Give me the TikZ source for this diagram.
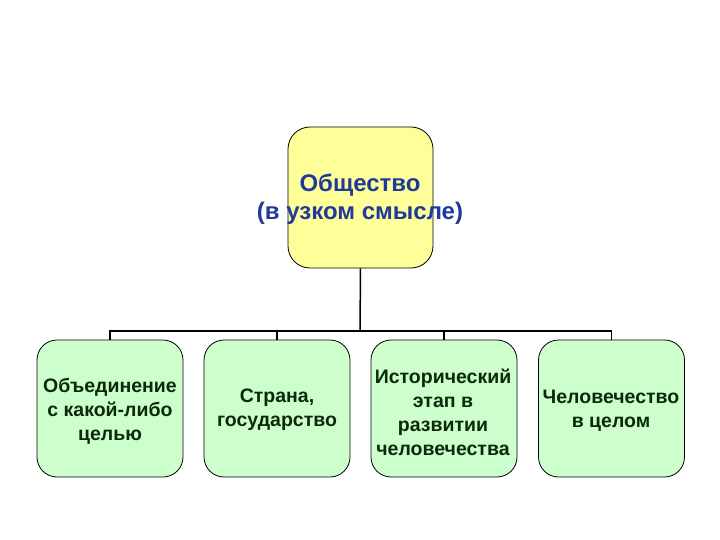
\documentclass[tikz,border=0pt]{standalone}
\usepackage{fontspec}
\setmainfont{Liberation Sans}
\usetikzlibrary{positioning}
\definecolor{topfill}{HTML}{FFFF99}
\definecolor{subfill}{HTML}{CCFFCC}
\definecolor{toptext}{HTML}{1F3A99}
\definecolor{subtext}{HTML}{0A2A0A}
\tikzset{
  topbox/.style={draw=black, line width=0.8pt, fill=topfill, rounded corners=22pt,
    minimum width=145pt, minimum height=141pt, inner sep=0pt},
  subbox/.style={draw=black, line width=0.8pt, fill=subfill, rounded corners=20pt,
    minimum width=146pt, minimum height=137pt, inner sep=0pt},
  toplabel/.style={align=center, text=toptext, font=\fontsize{24pt}{28pt}\selectfont\bfseries, inner sep=0pt},
  sublabel/.style={align=center, text=subtext, font=\fontsize{19.5pt}{24pt}\selectfont\bfseries, inner sep=0pt},
  branch/.style={line width=1.5pt}
}

\begin{document}
\begin{tikzpicture}[x=1pt, y=-1pt]
			%%%%% START %%%%%
			\useasboundingbox (0,0) rectangle (720,540);
			
			\node[topbox] (soc) at (360.5, 197.5) {};
			\node[toplabel] at (360, 199) {Общество\\(в узком смысле)};
			
			\node[subbox] (union) at (110, 408.5) {};
			\node[sublabel] at (110, 411) {Объединение\\с какой-либо\\целью};
			
			\node[subbox] (state) at (277, 408.5) {};
			\node[sublabel] at (277, 410) {Страна,\\государство};
			
			\node[subbox] (stage) at (444, 408.5) {};
			\node[sublabel] at (443, 412) {Исторический\\этап в\\развитии\\человечества};
			
			\node[subbox] (mankind) at (611.5, 408.5) {};
			\node[sublabel] at (611, 411) {Человечество\\в целом};
			
			%%%%% connectors %%%%%
			\coordinate (bus) at (360, 331);
			\draw[branch] (soc.south) -- (bus);
			\draw[branch] (union.north) -- (union.north |- bus) -- (mankind.north |- bus) -- (mankind.north);
			\draw[branch] (state.north) -- (state.north |- bus);
			\draw[branch] (stage.north) -- (stage.north |- bus);
			
			%%%%% END %%%%%
\end{tikzpicture}
\end{document}
